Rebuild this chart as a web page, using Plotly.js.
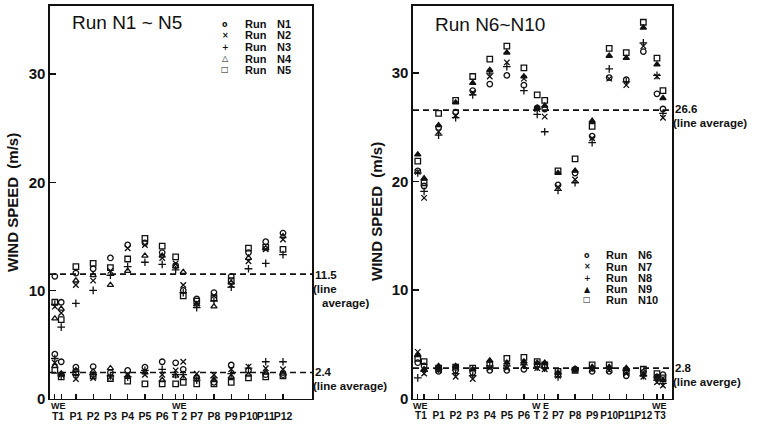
<!DOCTYPE html>
<html><head><meta charset="utf-8">
<script src="https://cdn.plot.ly/plotly-3.0.1.min.js"></script>
<style>html,body{margin:0;padding:0;background:#fff}#chart{width:758px;height:425px}</style>
</head><body><div id="chart"></div>
<script>
// ---------- stations ----------
const stationsA = ['T1W','T1E','P1','P2','P3','P4','P5','P6','T2W','T2E','P7','P8','P9','P10','P11','P12'];
const stationsB = ['T1W','T1E','P1','P2','P3','P4','P5','P6','T2W','T2E','P7','P8','P9','P10','P11','P12','T3W','T3E'];
const labelKeysA = ['T1','P1','P2','P3','P4','P5','P6','T2','P7','P8','P9','P10','P11','P12'];
const labelKeysB = ['T1','P1','P2','P3','P4','P5','P6','T2','P7','P8','P9','P10','P11','P12','T3'];
const labelTextA = ['T1','P1','P2','P3','P4','P5','P6','T 2','P7','P8','P9','P10','P11','P12'];
const labelTextB = ['T1','P1','P2','P3','P4','P5','P6','T 2','P7','P8','P9','P10','P11','P12','T3'];

// ---------- Run N1 - N5 (upper: tower level, lower: ground level), m/s ----------
const n1Hi = [11.3, 8.9, 11.6, 12.0, 13.0, 14.2, 14.4, 13.5, 12.3, 10.0, 9.2, 9.8, 11.3, 13.5, 14.5, 15.3];
const n1Lo = [4.1, 3.4, 2.9, 2.95, 2.4, 2.6, 2.9, 3.4, 3.3, 2.7, 1.9, 1.5, 3.1, 2.6, 2.2, 2.2];
const n2Hi = [8.5, 7.9, 10.5, 10.9, 11.8, 13.9, 14.2, 13.0, 12.5, 10.5, 8.8, 9.5, 10.5, 12.7, 13.8, 14.7];
const n2Lo = [3.3, 2.2, 1.8, 1.9, 2.0, 2.2, 2.2, 2.2, 2.6, 3.4, 2.3, 2.2, 2.7, 2.95, 2.8, 2.7];
const n3Hi = [8.7, 6.6, 8.8, 10.0, 11.4, 12.2, 12.6, 12.4, 11.9, 9.8, 8.4, 9.0, 10.3, 12.0, 12.5, 13.3];
const n3Lo = [3.7, 2.1, 2.2, 2.2, 2.1, 2.0, 2.6, 2.7, 2.2, 2.2, 1.7, 1.9, 2.3, 2.8, 3.4, 3.4];
const n4Hi = [7.4, 8.3, 10.9, 11.4, 10.5, 11.8, 13.2, 13.2, 12.2, 11.7, 8.7, 8.5, 10.7, 13.0, 13.9, 15.0];
const n4Lo = [3.0, 2.3, 2.6, 2.5, 2.8, 2.1, 2.4, 1.7, 2.1, 1.9, 2.0, 1.7, 2.0, 2.2, 2.4, 2.3];
const n5Hi = [8.9, 7.3, 12.2, 12.5, 12.1, 12.9, 14.8, 14.1, 13.1, 9.5, 9.0, 9.3, 10.9, 13.9, 14.0, 13.8];
const n5Lo = [2.6, 2.0, 2.4, 2.1, 1.85, 1.6, 1.35, 1.35, 1.35, 1.5, 1.35, 1.35, 1.5, 1.9, 2.0, 2.1];

// ---------- Run N6 - N10 ----------
const n6Hi  = [21.0, 19.6, 25.0, 26.4, 28.4, 29.0, 29.8, 28.9, 26.8, 26.7, 19.7, 20.8, 24.2, 29.6, 29.4, 32.0, 28.1, 26.7];
const n6Lo  = [3.3, 3.0, 2.5, 2.6, 2.4, 2.6, 2.6, 2.7, 3.1, 2.9, 2.2, 2.7, 2.5, 2.5, 2.1, 2.4, 2.0, 2.2];
const n7Hi  = [20.9, 18.5, 24.6, 26.1, 28.2, 29.7, 31.0, 29.5, 26.7, 26.0, 19.5, 20.2, 24.0, 29.5, 28.9, 32.5, 29.7, 25.9];
const n7Lo  = [4.3, 2.3, 2.6, 2.0, 1.8, 2.8, 2.8, 3.0, 2.8, 2.7, 2.1, 2.6, 2.7, 2.6, 2.3, 2.0, 1.5, 1.2];
const n8Hi  = [20.8, 19.1, 24.3, 25.9, 28.0, 30.0, 30.6, 28.4, 26.2, 24.6, 19.2, 19.9, 23.6, 30.4, 29.2, 32.8, 29.8, 26.3];
const n8Lo  = [1.9, 2.5, 2.7, 2.3, 2.1, 3.0, 3.0, 3.1, 2.9, 2.8, 2.0, 2.7, 2.8, 2.8, 2.6, 2.1, 1.7, 1.4];
const n9Hi  = [22.5, 20.3, 25.2, 27.3, 29.1, 30.3, 31.9, 29.7, 26.8, 27.0, 20.8, 21.0, 25.6, 31.6, 31.4, 34.2, 30.8, 27.7];
const n9Lo  = [4.0, 2.7, 3.0, 3.0, 2.7, 3.5, 3.3, 3.4, 3.3, 3.3, 2.4, 2.7, 2.9, 2.9, 2.8, 2.2, 2.0, 1.7];
const n10Hi = [21.9, 19.9, 26.3, 27.5, 29.7, 31.3, 32.5, 30.5, 28.0, 27.5, 21.0, 22.1, 25.1, 32.3, 31.9, 34.7, 31.4, 28.4];
const n10Lo = [3.7, 3.4, 2.8, 2.9, 2.8, 3.1, 3.7, 3.8, 3.4, 3.1, 2.5, 2.6, 3.1, 3.1, 2.5, 2.7, 2.3, 1.9];

const runNamesA = ['N1','N2','N3','N4','N5'];
const runNamesB = ['N6','N7','N8','N9','N10'];
const lineAvgA = [11.5, 2.4];
const lineAvgB = [26.6, 2.8];

// ---------- layout helpers (positions / styles) ----------
const stationPos = {T1W:-1.22, T1E:-0.85, P1:0, P2:1, P3:2, P4:3, P5:4, P6:5, T2W:5.78, T2E:6.22,
  P7:7, P8:8, P9:9, P10:10, P11:11, P12:12, T3W:12.8, T3E:13.15};
const labelPos = k => (k in stationPos) ? stationPos[k] : (stationPos[k+'W'] + stationPos[k+'E'])/2;
const W = 758, H = 425;
const px = x => x / W, py = y => 1 - y / H;
const symA = ['circle-open','x-thin-open','cross-thin-open','triangle-up-open','square-open'];
const symB = ['circle-open','x-thin-open','cross-thin-open','triangle-up','square-open'];
const ink = '#111';
const FONT = 'Liberation Sans, Arial, sans-serif';

const hiA = [n1Hi,n2Hi,n3Hi,n4Hi,n5Hi], loA = [n1Lo,n2Lo,n3Lo,n4Lo,n5Lo];
const hiB = [n6Hi,n7Hi,n8Hi,n9Hi,n10Hi], loB = [n6Lo,n7Lo,n8Lo,n9Lo,n10Lo];

const traces = [];
function addRuns(names, hi, lo, stations, syms, xa, ya){
  const xs = stations.map(s => stationPos[s]);
  names.forEach((n,i) => {
    traces.push({type:'scatter', mode:'markers', name:'Run '+n, xaxis:xa, yaxis:ya,
      x: xs.concat(xs), y: hi[i].concat(lo[i]), showlegend:false,
      marker:{symbol:syms[i], size:5.5, color:ink, line:{color:ink, width:1.3}}});
  });
}
addRuns(runNamesA, hiA, loA, stationsA, symA, 'x', 'y');
addRuns(runNamesB, hiB, loB, stationsB, symB, 'x2', 'y2');

const xr = [-1.5, 13.68];
const yDom = [py(398.5), py(6)];
const baseX = (dom, stations, keys, txt, size) => ({domain:dom, range:xr, showline:true, mirror:true, linecolor:ink, linewidth:1.6,
  showgrid:false, zeroline:false, tickmode:'array', tickvals:keys.map(labelPos), ticktext:txt, ticks:'', tickangle:0,
  ticklabelstandoff:7, tickfont:{family:FONT, size:size, color:ink, weight:'bold'},
  minor:{tickmode:'array', tickvals:stations.map(s=>stationPos[s]), ticks:'inside', ticklen:5, tickcolor:ink, tickwidth:1.3, showgrid:false}});
const baseY = (rng) => ({domain:yDom, range:rng, showline:true, mirror:true, linecolor:ink, linewidth:1.6,
  ticks:'inside', ticklen:6, tickcolor:ink, tickwidth:1.5, tickvals:[0,10,20,30], showgrid:false, zeroline:false,
  tickfont:{family:FONT, size:15, color:ink, weight:'bold'}});

const domA = [px(50), px(312)], domB = [px(413), px(672)];
const layout = {
  width:W, height:H, margin:{l:0,r:0,t:0,b:0}, paper_bgcolor:'#fff', plot_bgcolor:'#fff', showlegend:false,
  xaxis: Object.assign(baseX(domA, stationsA, labelKeysA, labelTextA, 10.5), {anchor:'y'}),
  yaxis: Object.assign(baseY([0,36.3]), {anchor:'x'}),
  xaxis2: Object.assign(baseX(domB, stationsB, labelKeysB, labelTextB, 10), {anchor:'y2'}),
  yaxis2: Object.assign(baseY([0,36.2]), {anchor:'x2'}),
  shapes: [], annotations: []
};
// dashed line averages
[[lineAvgA,'x','y'],[lineAvgB,'x2','y2']].forEach(([avgs,xa,ya]) => {
  avgs.forEach(v => layout.shapes.push({type:'line', xref:xa+' domain', x0:0, x1:1, yref:ya, y0:v, y1:v,
    line:{color:ink, width:1.6, dash:'6px,4px'}}));
});
const ann = (o) => layout.annotations.push(Object.assign({showarrow:false, xanchor:'center', yanchor:'middle', borderpad:0,
  font:{family:FONT, size:12, color:ink, weight:'bold'}}, o));
const avgFont = {family:FONT, size:11.5, color:ink, weight:'bold'};
// line-average labels
ann({xref:'x domain', x:1, xanchor:'left', xshift:2, yref:'y', y:lineAvgA[0], yshift:-1, text:lineAvgA[0].toFixed(1), font:avgFont});
ann({xref:'x domain', x:1, xanchor:'left', xshift:0, yref:'y', y:lineAvgA[0], yshift:-15, text:'(line', font:avgFont});
ann({xref:'x domain', x:1, xanchor:'left', xshift:9, yref:'y', y:lineAvgA[0], yshift:-29, text:'average)', font:avgFont});
ann({xref:'x domain', x:1, xanchor:'left', xshift:2, yref:'y', y:lineAvgA[1], yshift:1, text:lineAvgA[1].toFixed(1), font:avgFont});
ann({xref:'x domain', x:1, xanchor:'left', xshift:0, yref:'y', y:lineAvgA[1], yshift:-13, text:'(line average)', font:avgFont});
ann({xref:'x2 domain', x:1, xanchor:'left', xshift:2, yref:'y2', y:lineAvgB[0], yshift:1, text:lineAvgB[0].toFixed(1), font:avgFont});
ann({xref:'x2 domain', x:1, xanchor:'left', xshift:0, yref:'y2', y:lineAvgB[0], yshift:-13, text:'(line average)', font:avgFont});
ann({xref:'x2 domain', x:1, xanchor:'left', xshift:2, yref:'y2', y:lineAvgB[1], yshift:0, text:lineAvgB[1].toFixed(1), font:avgFont});
ann({xref:'x2 domain', x:1, xanchor:'left', xshift:0, yref:'y2', y:lineAvgB[1], yshift:-14, text:'(line averge)', font:avgFont});
// W / E markers above the tower stations
[['x',['T1','T2'],['WE','WE']],['x2',['T1','T2','T3'],['WE','W E','WE']]].forEach(([xa,keys,txt]) => {
  keys.forEach((k,i) => ann({xref:xa, x:labelPos(k), yref:'paper', y:py(406), text:txt[i],
    font:{family:FONT, size:9, color:ink, weight:'bold'}}));
});
// panel titles
ann({xref:'paper', x:px(71), xanchor:'left', yref:'paper', y:py(22.5), text:'Run N1 ~ N5', font:{family:FONT, size:19, color:ink}});
ann({xref:'paper', x:px(434), xanchor:'left', yref:'paper', y:py(24.5), text:'Run N6~N10', font:{family:FONT, size:19, color:ink}});
// y axis titles
ann({xref:'paper', x:px(12), yref:'paper', y:py(203), textangle:-90, text:'WIND SPEED  (m/s)', font:{family:FONT, size:15, color:ink, weight:'bold'}});
ann({xref:'paper', x:px(377), yref:'paper', y:py(212), textangle:-90, text:'WIND SPEED  (m/s)', font:{family:FONT, size:15, color:ink, weight:'bold'}});
// legends
const glyphA = ['o','×','+','△','□'], glyphB = ['o','×','+','▲','□'];
const legRowsA = [24.5, 35.5, 47, 58.5, 70], legRowsB = [255, 266.5, 278, 289, 299.5];
runNamesA.forEach((n,i) => {
  ann({xref:'paper', x:px(225), yref:'paper', y:py(legRowsA[i]), text:glyphA[i], font:{family:'DejaVu Sans', size:8, color:ink, weight:'bold'}});
  ann({xref:'paper', x:px(244), xanchor:'left', yref:'paper', y:py(legRowsA[i]), text:'Run', font:{family:FONT, size:11, color:ink, weight:'bold'}});
  ann({xref:'paper', x:px(276), xanchor:'left', yref:'paper', y:py(legRowsA[i]), text:n, font:{family:FONT, size:11, color:ink, weight:'bold'}});
});
runNamesB.forEach((n,i) => {
  ann({xref:'paper', x:px(587), yref:'paper', y:py(legRowsB[i]), text:glyphB[i], font:{family:'DejaVu Sans', size:8, color:ink, weight:'bold'}});
  ann({xref:'paper', x:px(605), xanchor:'left', yref:'paper', y:py(legRowsB[i]), text:'Run', font:{family:FONT, size:11, color:ink, weight:'bold'}});
  ann({xref:'paper', x:px(637), xanchor:'left', yref:'paper', y:py(legRowsB[i]), text:n, font:{family:FONT, size:11, color:ink, weight:'bold'}});
});

Plotly.newPlot('chart', traces, layout, {staticPlot:true, displayModeBar:false});
</script>
</body></html>
